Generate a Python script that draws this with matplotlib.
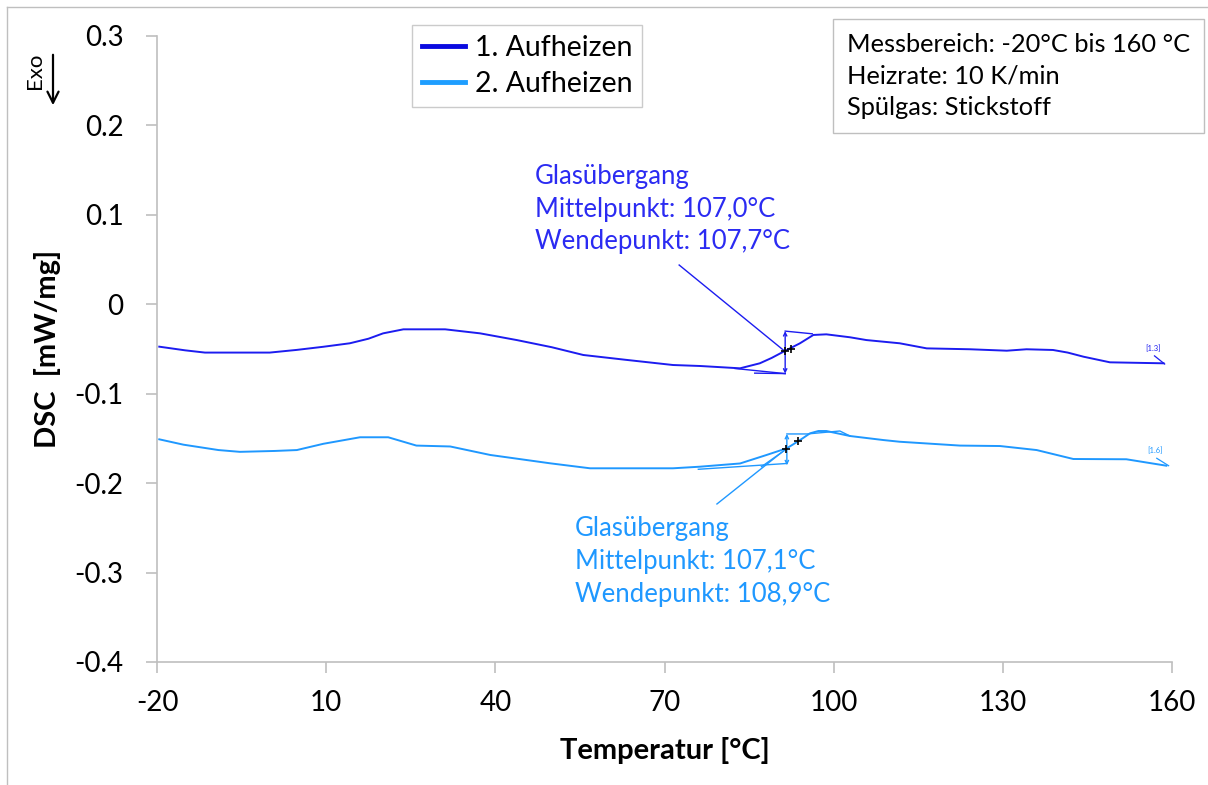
import matplotlib
matplotlib.use("Agg")
import matplotlib.pyplot as plt
from matplotlib.lines import Line2D

# ---------------- data ----------------
temp1 = [-19.6, -15.0, -11.5, -5.0, 0.0, 4.8, 9.5, 14.2, 17.5, 20.1, 23.7, 31.1, 37.3,
         43.8, 50.0, 55.6, 63.0, 71.5, 76.3, 83.4, 86.9, 89.0, 91.1, 94.0, 96.4, 98.7,
         102.9, 105.8, 111.7, 116.5, 124.2, 130.7, 134.2, 138.9, 141.5, 144.3, 149.0, 158.5]
dsc1 = [-0.0474, -0.0515, -0.0540, -0.0540, -0.0540, -0.0510, -0.0475, -0.0436, -0.0385,
        -0.0325, -0.0280, -0.0280, -0.0325, -0.0400, -0.0480, -0.0567, -0.0620, -0.0679,
        -0.0690, -0.0716, -0.0660, -0.0600, -0.0530, -0.0437, -0.0343, -0.0336, -0.0369,
        -0.0400, -0.0436, -0.0493, -0.0503, -0.0519, -0.0503, -0.0511, -0.0540, -0.0586,
        -0.0649, -0.0660]

temp2 = [-19.6, -15.3, -9.1, -5.3, 0.9, 4.8, 9.5, 16.0, 21.0, 26.0, 32.0, 39.1, 49.7,
         56.8, 71.5, 76.3, 83.4, 88.1, 91.7, 94.0, 95.8, 97.3, 98.7, 102.9, 108.8, 111.7,
         122.4, 129.5, 136.0, 142.5, 151.9, 159.0]
dsc2 = [-0.1510, -0.1570, -0.1630, -0.1650, -0.1640, -0.1630, -0.1560, -0.1487, -0.1487,
        -0.1580, -0.1590, -0.1685, -0.1778, -0.1834, -0.1834, -0.1816, -0.1780, -0.1685,
        -0.1610, -0.1520, -0.1443, -0.1417, -0.1417, -0.1473, -0.1518, -0.1537, -0.1580,
        -0.1585, -0.1630, -0.1730, -0.1733, -0.1805]

series_names = ["1. Aufheizen", "2. Aufheizen"]
x_ticks = [-20, 10, 40, 70, 100, 130, 160]
y_ticks = [0.3, 0.2, 0.1, 0.0, -0.1, -0.2, -0.3, -0.4]
y_ticklabels = ["0.3", "0.2", "0.1", "0", "-0.1", "-0.2", "-0.3", "-0.4"]

# glass transition evaluation (onset construction, markers)
tg1_x, tg1_top, tg1_bot = 91.4, -0.0300, -0.0775
tg1_marks_x = [91.4, 92.4]
tg1_marks_y = [-0.0520, -0.0495]
tg2_x, tg2_top, tg2_bot = 91.7, -0.1450, -0.1800
tg2_marks_x = [91.6, 93.7]
tg2_marks_y = [-0.1615, -0.1525]

note1 = "Glasübergang\nMittelpunkt: 107,0°C\nWendepunkt: 107,7°C"
note2 = "Glasübergang\nMittelpunkt: 107,1°C\nWendepunkt: 108,9°C"
info = "Messbereich: -20°C bis 160 °C\nHeizrate: 10 K/min\nSpülgas: Stickstoff"

c1 = "#1c1cf0"
c2 = "#1f98ff"
t1 = "#2b2bf2"
t2 = "#1f98ff"

plt.rcParams['font.family'] = ['Lato', 'DejaVu Sans']

fig = plt.figure(figsize=(12.08, 7.85), dpi=100)
ax = fig.add_axes([157/1208, 1-662/785, (1172-157)/1208, (662-36)/785])

ax.plot(temp1, dsc1, color=c1, lw=1.4, zorder=3)
ax.plot(temp2, dsc2, color=c2, lw=1.4, zorder=3)

# construction lines curve 1
lw_c = 1.0
ax.annotate("", xy=(tg1_x, tg1_top), xytext=(tg1_x, tg1_bot),
            arrowprops=dict(arrowstyle="<->", color=c1, lw=lw_c, mutation_scale=6, shrinkA=0, shrinkB=0))
ax.plot([tg1_x, 96.2], [tg1_top, -0.0330], color=c1, lw=lw_c)
ax.plot([82.5, tg1_x], [-0.0718, tg1_bot], color=c1, lw=lw_c)
ax.plot([86.0, tg1_x], [-0.0770, tg1_bot], color=c1, lw=lw_c)
ax.plot(tg1_marks_x, tg1_marks_y, '+', color='black', ms=6, mew=1.2, zorder=4)
ax.plot([72.6, 91.06], [0.0439, -0.0511], color=c1, lw=1.0)

# construction lines curve 2
ax.annotate("", xy=(tg2_x, tg2_top), xytext=(tg2_x, tg2_bot),
            arrowprops=dict(arrowstyle="<->", color=c2, lw=lw_c, mutation_scale=6, shrinkA=0, shrinkB=0))
ax.plot([tg2_x, 95.3, 101.1, 102.9], [tg2_top, tg2_top, -0.1417, -0.1473], color=c2, lw=lw_c)
ax.plot([76.0, tg2_x], [-0.1845, -0.1780], color=c2, lw=lw_c)
ax.plot([87.2, tg2_x], [-0.1816, -0.1615], color=c2, lw=lw_c)
ax.plot(tg2_marks_x, tg2_marks_y, '+', color='black', ms=6, mew=1.2, zorder=4)
ax.plot([79.3, 91.5], [-0.2233, -0.1620], color=c2, lw=1.0)

# small end labels
ax.text(156.6, -0.0490, "[1.3]", color=c1, fontsize=5.5, ha='center', va='center')
ax.plot([156.9, 158.7], [-0.0577, -0.0668], color=c1, lw=0.9)
ax.text(157.0, -0.1637, "[1.6]", color=c2, fontsize=5.5, ha='center', va='center')
ax.plot([157.3, 159.4], [-0.1722, -0.1805], color=c2, lw=0.9)

# annotation texts
fig.text(535/1208, 1-164/785, note1, color=t1, fontsize=18.5, ha='left', va='top', linespacing=1.38)
fig.text(575/1208, 1-516/785, note2, color=t2, fontsize=18.5, ha='left', va='top', linespacing=1.4)

ax.set_xlim(-20, 160)
ax.set_ylim(-0.4, 0.3)
ax.set_xticks(x_ticks)
ax.set_xticklabels([str(v) for v in x_ticks])
ax.set_yticks(y_ticks)
ax.set_yticklabels(y_ticklabels)

for s in ['top', 'right']:
    ax.spines[s].set_visible(False)
for s in ['left', 'bottom']:
    ax.spines[s].set_color('#bfbfbf')
    ax.spines[s].set_linewidth(1.2)
ax.tick_params(axis='both', colors='#bfbfbf', width=1.2, length=8, labelsize=20,
               labelcolor='black')
ax.tick_params(axis='x', pad=12)
ax.tick_params(axis='y', pad=16)

ax.set_xlabel("Temperatur [°C]", fontsize=21, fontweight='bold', labelpad=15)
ax.set_ylabel("DSC  [mW/mg]", fontsize=21, fontweight='bold', labelpad=10)

# legend
handles = [Line2D([], [], color='#0a0ae0', lw=3.5), Line2D([], [], color='#1e9eff', lw=3.5)]
leg = fig.legend(handles, series_names, loc='upper left',
                 bbox_to_anchor=(412/1208, 1-25/785), borderaxespad=0, fontsize=20.5,
                 frameon=True, fancybox=False, edgecolor='#bfbfbf', handlelength=1.5,
                 handletextpad=0.35, borderpad=0.35, labelspacing=0.35)
leg.get_frame().set_linewidth(1.0)

# info box
fig.text(847/1208, 1-33/785, info, fontsize=18.3, ha='left', va='top', linespacing=1.44,
         bbox=dict(boxstyle='square,pad=0.55', fc='white', ec='#bfbfbf', lw=1.0))

# Exo arrow
fig.text(35/1208, 1-71/785, "Exo", rotation=90, fontsize=16, ha='center', va='center')
fig.add_artist(matplotlib.patches.FancyArrowPatch((53/1208, 1-52/785), (53/1208, 1-108/785),
               transform=fig.transFigure, arrowstyle='->', mutation_scale=20, lw=1.6, color='black'))

# partial figure frame (top and left)
fig.add_artist(Line2D([7/1208, 1], [1-7/785, 1-7/785], transform=fig.transFigure, color='#bfbfbf', lw=1.0))
fig.add_artist(Line2D([7/1208, 7/1208], [0, 1-7/785], transform=fig.transFigure, color='#bfbfbf', lw=1.0))

fig.savefig("out.png", dpi=100)
